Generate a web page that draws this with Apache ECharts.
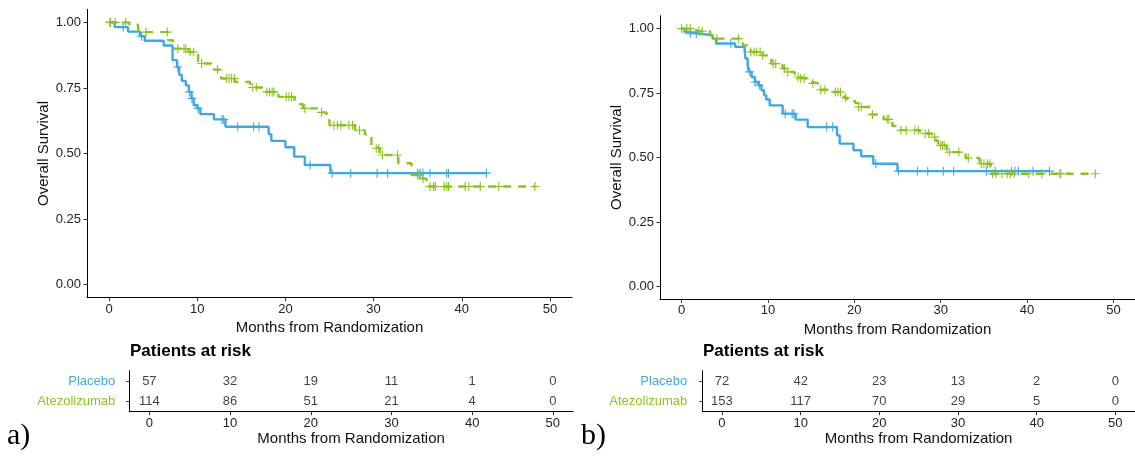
<!DOCTYPE html>
<html>
<head>
<meta charset="utf-8">
<script src="https://cdn.jsdelivr.net/npm/echarts@6/dist/echarts.min.js"></script>
<style>
html,body{margin:0;padding:0;background:#fff;}
#chart{width:1135px;height:456px;}
</style>
</head>
<body>
<div id="chart"></div>
<script>
// ---------- DATA ----------
const xTicks = [0, 10, 20, 30, 40, 50];
const yTicks = [0, 0.25, 0.5, 0.75, 1];
const groups = ['Atezolizumab', 'Placebo'];

// Panel a) Kaplan-Meier steps (time in months, survival after drop)
const aPboTimes = [0, 0.65, 2.15, 3.5, 4.05, 6.2, 7.2, 7.7, 7.95, 8.25, 8.7, 9.05, 9.35, 9.6, 10.0, 10.35, 11.9, 13.2, 18.1, 18.4, 20.0, 21.0, 22.2, 25.1, 42.8];
const aPboSurv  = [1, 0.982, 0.965, 0.947, 0.93, 0.912, 0.856, 0.83, 0.80, 0.777, 0.76, 0.735, 0.71, 0.684, 0.672, 0.65, 0.63, 0.602, 0.574, 0.548, 0.524, 0.488, 0.456, 0.425, 0.425];
const aPboCens  = [0.1, 1.6, 3.7, 7.8, 9.1, 9.4, 10.1, 12.8, 13.0, 14.6, 16.4, 17.0, 22.8, 25.3, 27.4, 30.4, 31.6, 35.0, 35.3, 35.6, 36.4, 38.3, 38.5, 42.8];

const aAtzTimes = [0, 2.3, 3.3, 3.4, 6.7, 7.25, 9.0, 10.1, 11.6, 11.9, 12.7, 14.25, 16.0, 17.5, 19.2, 21.05, 21.2, 22.0, 23.8, 24.65, 25.0, 27.9, 29.0, 29.4, 29.75, 30.0, 30.7, 32.8, 34.3, 35.5, 36.0, 48.3];
const aAtzSurv  = [1, 0.991, 0.975, 0.963, 0.932, 0.90, 0.887, 0.843, 0.83, 0.82, 0.786, 0.773, 0.752, 0.735, 0.716, 0.703, 0.688, 0.672, 0.657, 0.627, 0.608, 0.589, 0.573, 0.565, 0.526, 0.52, 0.494, 0.463, 0.418, 0.404, 0.374, 0.374];
const aAtzCens  = [0.15, 0.7, 1.9, 4.2, 6.6, 7.8, 8.5, 8.7, 9.2, 9.6, 10.5, 12.3, 13.3, 13.6, 13.9, 14.2, 16.3, 16.7, 17.9, 18.2, 18.5, 18.7, 20.1, 20.4, 20.7, 22.2, 24.1, 25.5, 25.9, 26.3, 27.2, 27.6, 28.4, 30.3, 30.6, 31.0, 32.7, 35.0, 35.2, 35.6, 36.4, 36.8, 37.0, 38.0, 38.3, 38.5, 40.4, 40.8, 42.1, 44.2, 48.3];

// Panel b)
const bPboTimes = [0, 0.34, 0.9, 2.2, 3.6, 4.0, 6.2, 7.3, 7.4, 7.65, 7.8, 8.1, 8.5, 8.9, 9.25, 9.55, 9.8, 10.2, 11.7, 13.2, 14.6, 18.0, 18.3, 19.9, 20.8, 22.2, 25.0, 42.6];
const bPboSurv  = [1, 0.987, 0.98, 0.974, 0.961, 0.942, 0.929, 0.916, 0.884, 0.858, 0.832, 0.812, 0.793, 0.78, 0.761, 0.741, 0.725, 0.702, 0.67, 0.647, 0.618, 0.586, 0.554, 0.528, 0.505, 0.476, 0.447, 0.447];
const bPboCens  = [1.0, 1.7, 5.7, 7.9, 8.5, 9.0, 12.0, 12.8, 13.0, 16.8, 17.5, 22.5, 25.1, 27.3, 28.5, 30.3, 31.5, 35.3, 36.3, 38.2, 38.6, 39.0, 40.7, 42.6];

const bAtzTimes = [0, 1.7, 3.3, 3.9, 6.7, 7.1, 7.6, 8.0, 9.4, 10.4, 11.0, 11.7, 12.1, 13.1, 13.6, 14.6, 15.0, 15.9, 17.5, 18.8, 19.2, 20.1, 20.5, 21.9, 23.4, 24.4, 24.8, 27.6, 29.0, 29.4, 29.7, 30.7, 32.9, 34.5, 35.8, 47.9];
const bAtzSurv  = [1, 0.99, 0.974, 0.961, 0.948, 0.935, 0.922, 0.909, 0.896, 0.864, 0.858, 0.845, 0.832, 0.812, 0.806, 0.793, 0.787, 0.763, 0.754, 0.732, 0.719, 0.711, 0.696, 0.667, 0.648, 0.622, 0.606, 0.593, 0.579, 0.566, 0.547, 0.521, 0.498, 0.476, 0.437, 0.437];
const bAtzCens  = [0.0, 0.6, 1.0, 2.0, 2.4, 4.1, 6.6, 8.0, 8.4, 8.7, 9.1, 9.4, 10.6, 10.9, 11.9, 12.3, 13.5, 13.8, 14.2, 15.2, 16.1, 16.6, 17.8, 18.1, 18.4, 19.0, 20.5, 20.8, 22.1, 23.8, 24.0, 25.4, 26.0, 27.0, 27.4, 28.2, 28.6, 29.3, 30.0, 30.2, 30.4, 31.0, 32.1, 33.2, 34.7, 35.0, 35.4, 35.7, 36.0, 36.4, 37.1, 37.7, 38.1, 38.5, 40.2, 41.7, 43.8, 43.9, 47.9];

// Numbers at risk at xTicks
const aRiskPbo = [57, 32, 19, 11, 1, 0];
const aRiskAtz = [114, 86, 51, 21, 4, 0];
const bRiskPbo = [72, 42, 23, 13, 2, 0];
const bRiskAtz = [153, 117, 70, 29, 5, 0];

// ---------- STYLE ----------
const BLUE = '#3ea9e1';
const GREEN = '#8cc21f';
const FONT = 'Liberation Sans, Arial, sans-serif';
const PLUS = 'path://M-0.6,-5H0.6V5H-0.6Z M-5,-0.6H5V0.6H-5Z';

function zip(t, s) { return t.map((v, i) => [v, s[i]]); }
function survAt(t, s, x) { let v = s[0]; for (let i = 0; i < t.length; i++) { if (t[i] <= x) v = s[i]; } return v; }
function cens(t, s, c) { return c.map(x => [x, survAt(t, s, x)]); }

const grids = [
  {left: 87, top: 9.3, width: 485, height: 288.4},
  {left: 660, top: 15.7, width: 483.5, height: 283.6},
  {left: 129.2, top: 370.7, width: 443.8, height: 41},
  {left: 702.3, top: 370.7, width: 445.5, height: 41}
];

function xAx(gi, nameGap) {
  return {
    type: 'value', gridIndex: gi, min: -2.5, max: 52.5,
    name: 'Months from Randomization', nameLocation: 'middle', nameGap: nameGap,
    nameTextStyle: {fontFamily: FONT, fontSize: 15, color: '#111'},
    axisLine: {show: true, onZero: false, lineStyle: {color: '#000', width: 1}},
    axisTick: {show: true, length: 3.5, customValues: xTicks, lineStyle: {color: '#333'}},
    axisLabel: {customValues: xTicks, fontFamily: FONT, fontSize: 13, color: '#222', margin: 5},
    splitLine: {show: false}
  };
}
function yAx(gi, nameGap) {
  return {
    type: 'value', gridIndex: gi, min: -0.05, max: 1.05,
    name: 'Overall Survival', nameLocation: 'middle', nameGap: nameGap,
    nameTextStyle: {fontFamily: FONT, fontSize: 15, color: '#111'},
    axisLine: {show: true, onZero: false, lineStyle: {color: '#000', width: 1}},
    axisTick: {show: true, length: 3.5, customValues: yTicks, lineStyle: {color: '#333'}},
    axisLabel: {customValues: yTicks, fontFamily: FONT, fontSize: 13, color: '#222', margin: 6,
      formatter: v => Number(v).toFixed(2)},
    splitLine: {show: false}
  };
}
function yCat(gi, margin) {
  return {
    type: 'category', gridIndex: gi, data: groups,
    axisLine: {show: true, onZero: false, lineStyle: {color: '#000', width: 1}},
    axisTick: {show: true, alignWithLabel: true, length: 3, lineStyle: {color: '#333'}},
    axisLabel: {fontFamily: FONT, fontSize: 13, margin: margin,
      color: (v) => v === 'Placebo' ? BLUE : GREEN},
    splitLine: {show: false}
  };
}

function kmLine(xi, t, s, color, dashed) {
  return {
    type: 'line', xAxisIndex: xi, yAxisIndex: xi, step: 'end', showSymbol: false,
    data: zip(t, s), silent: true,
    lineStyle: {color: color, width: 2.4, type: dashed ? [8, 7] : 'solid'},
    z: dashed ? 4 : 3
  };
}
function censor(xi, t, s, c, color) {
  return {
    type: 'scatter', xAxisIndex: xi, yAxisIndex: xi, symbol: PLUS, symbolSize: 9,
    data: cens(t, s, c), silent: true, itemStyle: {color: color, opacity: 1},
    z: 5
  };
}
function riskSeries(xi, pbo, atz) {
  const data = [];
  xTicks.forEach((x, i) => { data.push([x, 'Placebo', pbo[i]]); data.push([x, 'Atezolizumab', atz[i]]); });
  return {
    type: 'scatter', xAxisIndex: xi, yAxisIndex: xi, symbolSize: 1,
    itemStyle: {color: 'rgba(0,0,0,0)'}, data: data, silent: true,
    label: {show: true, position: 'inside', formatter: p => String(p.value[2]),
      fontFamily: FONT, fontSize: 13, color: '#111'}
  };
}

const chart = echarts.init(document.getElementById('chart'), null, {renderer: 'canvas'});
chart.setOption({
  animation: false,
  backgroundColor: '#fff',
  grid: grids,
  xAxis: [xAx(0, 20), xAx(1, 20), xAx(2, 20), xAx(3, 20)],
  yAxis: [yAx(0, 36), yAx(1, 35), yCat(2, 14), yCat(3, 15)],
  series: [
    kmLine(0, aPboTimes, aPboSurv, BLUE, false),
    kmLine(0, aAtzTimes, aAtzSurv, GREEN, true),
    censor(0, aPboTimes, aPboSurv, aPboCens, BLUE),
    censor(0, aAtzTimes, aAtzSurv, aAtzCens, GREEN),
    kmLine(1, bPboTimes, bPboSurv, BLUE, false),
    kmLine(1, bAtzTimes, bAtzSurv, GREEN, true),
    censor(1, bPboTimes, bPboSurv, bPboCens, BLUE),
    censor(1, bAtzTimes, bAtzSurv, bAtzCens, GREEN),
    riskSeries(2, aRiskPbo, aRiskAtz),
    riskSeries(3, bRiskPbo, bRiskAtz)
  ],
  graphic: [
    {type: 'text', left: 130, top: 343, style: {text: 'Patients at risk', font: 'bold 17px ' + FONT, fill: '#000'}},
    {type: 'text', left: 703, top: 343, style: {text: 'Patients at risk', font: 'bold 17px ' + FONT, fill: '#000'}},
    {type: 'text', left: 7, top: 421, style: {text: 'a)', font: '30px Liberation Serif, Times New Roman, serif', fill: '#000'}},
    {type: 'text', left: 581, top: 421, style: {text: 'b)', font: '30px Liberation Serif, Times New Roman, serif', fill: '#000'}}
  ]
});
</script>
</body>
</html>
